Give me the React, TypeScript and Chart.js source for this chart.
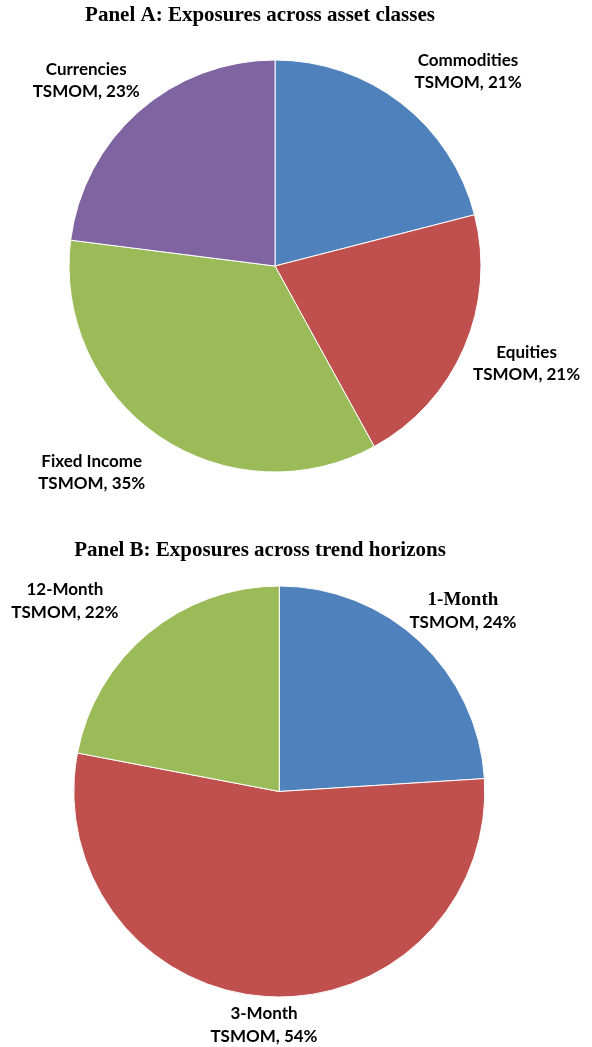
import React, { useEffect, useRef } from "react";
import { Chart, registerables } from "chart.js";

Chart.register(...registerables);

const panelATitle = "Panel A: Exposures across asset classes";
const assetCategories = ["Commodities", "Equities", "Fixed Income", "Currencies"];
const assetValues = [21, 21, 35, 23];
const assetColors = ["#4F81BD", "#C0504D", "#9BBB59", "#8064A2"];

const panelBTitle = "Panel B: Exposures across trend horizons";
const horizonCategories = ["1-Month", "3-Month", "12-Month"];
const horizonValues = [24, 54, 22];
const horizonColors = ["#4F81BD", "#C0504D", "#9BBB59"];

const labelFont = "bold 17px Lato, 'Open Sans', sans-serif";
const serifLabelFont = "bold 19px 'Liberation Serif', 'Times New Roman', serif";
const titleFont = "bold 21px 'Liberation Serif', 'Times New Roman', serif";

const pieLabelPlugin = {
  id: "pieLabels",
  afterDraw(chart: any, _args: any, opts: any) {
    const ctx = chart.ctx;
    ctx.save();
    ctx.fillStyle = "#000";
    ctx.textAlign = "center";
    ctx.textBaseline = "middle";
    ctx.font = titleFont;
    ctx.fillText(opts.title, opts.titleX, opts.titleY);
    const meta = chart.getDatasetMeta(0);
    const values = chart.data.datasets[0].data;
    meta.data.forEach((arc: any, i: number) => {
      const { x, y, startAngle, endAngle, outerRadius } = arc.getProps(
        ["x", "y", "startAngle", "endAngle", "outerRadius"],
        true
      );
      const p = opts.placement[i];
      const a = (startAngle + endAngle) / 2 + (p.shift * Math.PI) / 180;
      const d = outerRadius * p.dist;
      const lx = x + Math.cos(a) * d;
      const ly = y + Math.sin(a) * d;
      const lh = 22.5;
      ctx.font = p.serif ? serifLabelFont : labelFont;
      ctx.fillText(String(chart.data.labels[i]), lx, ly - lh / 2);
      ctx.font = labelFont;
      ctx.fillText(`TSMOM, ${values[i]}%`, lx, ly + lh / 2);
    });
    ctx.restore();
  },
};

function PieCanvas(props: {
  labels: string[];
  values: number[];
  colors: string[];
  width: number;
  height: number;
  padding: { left: number; right: number; top: number; bottom: number };
  pluginOpts: any;
}) {
  const ref = useRef<HTMLCanvasElement | null>(null);
  useEffect(() => {
    if (!ref.current) return;
    const chart = new Chart(ref.current, {
      type: "pie",
      data: {
        labels: props.labels,
        datasets: [
          {
            data: props.values,
            backgroundColor: props.colors,
            borderColor: "#ffffff",
            borderWidth: 1,
          },
        ],
      },
      options: {
        responsive: false,
        animation: false,
        layout: { padding: props.padding },
        plugins: {
          legend: { display: false },
          tooltip: { enabled: false },
          title: { display: false },
          pieLabels: props.pluginOpts,
        } as any,
      },
      plugins: [pieLabelPlugin as any],
    });
    return () => chart.destroy();
  }, []);
  return (
    <canvas
      ref={ref}
      width={props.width}
      height={props.height}
      style={{ display: "block", width: props.width, height: props.height }}
    />
  );
}

export default function App() {
  return (
    <div
      style={{
        position: "absolute",
        left: 0,
        top: 0,
        width: 592,
        height: 1047,
        background: "#fff",
      }}
    >
      <PieCanvas
        labels={assetCategories}
        values={assetValues}
        colors={assetColors}
        width={592}
        height={530}
        padding={{ left: 68.5, right: 110.5, top: 59.5, bottom: 57.5 }}
        pluginOpts={{
          title: panelATitle,
          titleX: 260,
          titleY: 16,
          placement: [
            { shift: 7, dist: 1.33 },
            { shift: -2.2, dist: 1.31 },
            { shift: 7.4, dist: 1.34 },
            { shift: -4.1, dist: 1.285 },
          ],
        }}
      />
      <PieCanvas
        labels={horizonCategories}
        values={horizonValues}
        colors={horizonColors}
        width={592}
        height={517}
        padding={{ left: 73.3, right: 106.7, top: 55.5, bottom: 49.5 }}
        pluginOpts={{
          title: panelBTitle,
          titleX: 260,
          titleY: 21,
          placement: [
            { shift: 2.3, dist: 1.253, serif: true },
            { shift: 0.15, dist: 1.139 },
            { shift: -8.8, dist: 1.395 },
          ],
        }}
      />
    </div>
  );
}
